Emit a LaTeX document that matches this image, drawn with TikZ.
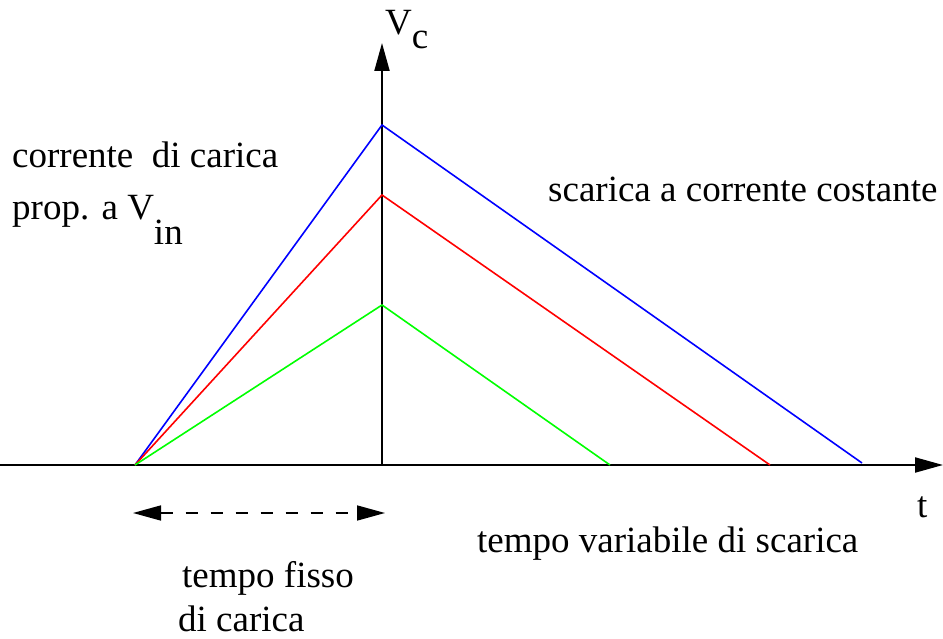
\documentclass[tikz,border=0pt]{standalone}
\usepackage{fontspec}
\setmainfont{Liberation Serif}
\usetikzlibrary{arrows.meta}
\begin{document}
\begin{tikzpicture}[
    x=1pt, y=-1pt,
    axis/.style={line width=2pt, -{Triangle[length=28pt, width=15pt]}},
    curve/.style={line width=1.6pt},
    span/.style={line width=1.6pt, dash pattern=on 12pt off 13pt,
                 {Triangle[length=28pt, width=15pt]}-{Triangle[length=28pt, width=15pt]}},
    lbl/.style={anchor=base west, inner sep=0pt, font=\fontsize{37}{44}\selectfont}
]
\useasboundingbox (0,0) rectangle (943,639);

\coordinate (origin) at (382,465);
\coordinate (start) at (135,465);
\coordinate (xend) at (943,465);
\coordinate (yend) at (382,43);
\coordinate (peakB) at (382,125);
\coordinate (peakR) at (382,195);
\coordinate (peakG) at (382,305);
\coordinate (endB) at (862,463);
\coordinate (endR) at (770,465);
\coordinate (endG) at (610,465);
\coordinate (fixL) at (133,513);
\coordinate (fixR) at (385,513);

\draw[axis] (0,465) -- (xend);
\draw[axis] (origin) -- (yend);

\draw[curve, blue] (start) -- (peakB) -- (endB);
\draw[curve, red] (start) -- (peakR) -- (endR);
\draw[curve, green] (start) -- (peakG) -- (endG);

\draw[span] (fixL) -- (fixR);

\node[lbl] (vc) at (385,35) {V\raisebox{-14pt}{c}};
\node[lbl] (tlab) at (917,517) {t};
\node[lbl] (carica) at (12,168) {corrente\ \ di carica};
\node[lbl] (prop) at (12,220) {prop. a V\raisebox{-25pt}{in}};
\node[lbl] (scarica) at (548,202) {scarica a corrente costante};
\node[lbl] (variabile) at (477,552) {tempo variabile di scarica};
\node[lbl] (fisso) at (182,587) {tempo fisso};
\node[lbl] (dicarica) at (178,631) {di carica};
\end{tikzpicture}
\end{document}
